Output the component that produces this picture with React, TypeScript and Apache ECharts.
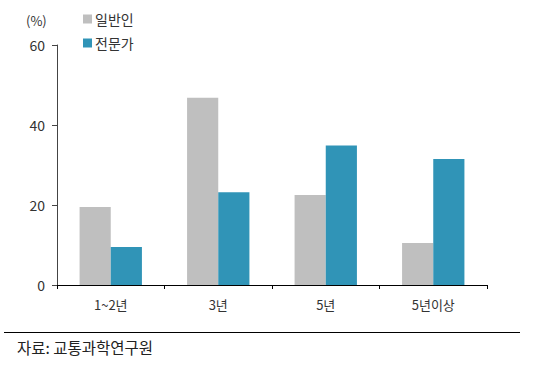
import React, { useEffect, useRef } from "react";
import * as echarts from "echarts";

const categories = ["1~2년", "3년", "5년", "5년이상"];
const generalPublic = [19.5, 46.8, 22.5, 10.5];
const experts = [9.5, 23.2, 34.9, 31.5];
const seriesNames = ["일반인", "전문가"];
const yTicks = { min: 0, max: 60, interval: 20 };

const FONT = "'Noto Sans CJK KR', 'Noto Sans', sans-serif";

export default function App() {
  const ref = useRef<HTMLDivElement>(null);
  useEffect(() => {
    if (!ref.current) return;
    const chart = echarts.init(ref.current, undefined, { renderer: "svg" });
    chart.setOption({
      animation: false,
      backgroundColor: "#ffffff",
      textStyle: { fontFamily: FONT },
      grid: { left: 57, right: 53, top: 45, bottom: 91 },
      legend: {
        orient: "vertical",
        left: 78,
        top: 7,
        itemWidth: 9,
        itemHeight: 9,
        itemGap: 10,
        icon: "rect",
        textStyle: { fontFamily: FONT, fontSize: 14, color: "#333", padding: [0, 0, 0, -2] },
        data: seriesNames,
      },
      xAxis: {
        type: "category",
        data: categories,
        axisLine: { lineStyle: { color: "#000", width: 1 } },
        axisTick: { show: true, length: 4, lineStyle: { color: "#000" } },
        axisLabel: { fontFamily: FONT, fontSize: 13, color: "#333", margin: 13 },
      },
      yAxis: {
        type: "value",
        min: yTicks.min,
        max: yTicks.max,
        interval: yTicks.interval,
        splitLine: { show: false },
        axisLine: { show: true, lineStyle: { color: "#444", width: 1 } },
        axisTick: { show: true, length: 5, lineStyle: { color: "#444" } },
        axisLabel: { fontFamily: FONT, fontSize: 14, color: "#333", margin: 12 },
      },
      graphic: [
        { type: "text", left: 26, top: 14, style: { text: "(%)", font: `13px ${FONT}`, fill: "#333" } },
        { type: "line", shape: { x1: 4, y1: 332.5, x2: 520, y2: 332.5 }, style: { stroke: "#000", lineWidth: 1 } },
        { type: "text", left: 17, top: 339, style: { text: "자료: 교통과학연구원", font: `15.5px ${FONT}`, fill: "#222" } },
      ],
      series: [
        {
          name: seriesNames[0],
          type: "bar",
          data: generalPublic,
          itemStyle: { color: "#BFBFBF" },
          barGap: "0%",
          barCategoryGap: "42%",
        },
        {
          name: seriesNames[1],
          type: "bar",
          data: experts,
          itemStyle: { color: "#3094B7" },
          barGap: "0%",
          barCategoryGap: "42%",
        },
      ],
    });
    return () => chart.dispose();
  }, []);
  return (
    <div
      ref={ref}
      style={{ position: "absolute", left: 0, top: 0, width: 540, height: 376 }}
    />
  );
}
